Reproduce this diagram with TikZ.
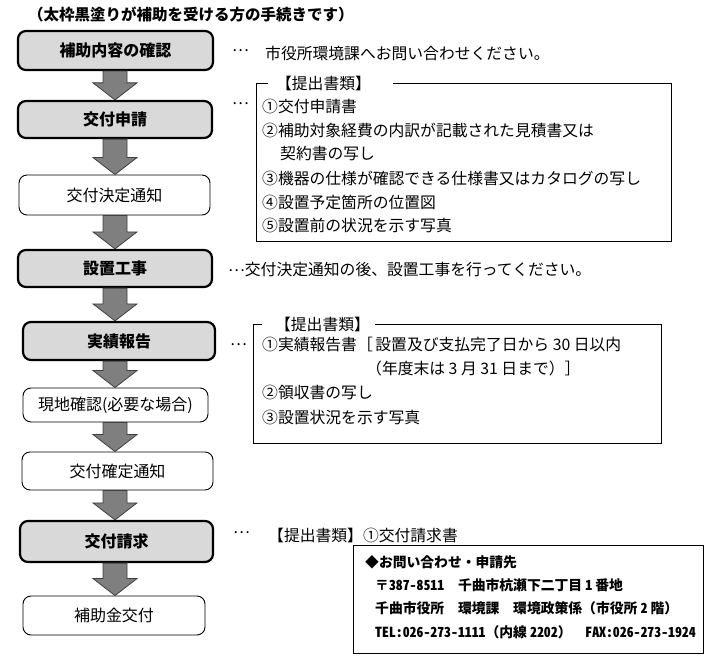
\documentclass[tikz,border=0pt]{standalone}
\usepackage{fontspec}
\setmainfont{Noto Sans CJK JP}
\usetikzlibrary{calc}
\definecolor{boxgray}{HTML}{D9D9D9}
\definecolor{arrgray}{HTML}{7F7F7F}
\definecolor{arrline}{HTML}{3F3F3F}
\newcommand{\hw}[1]{{\addfontfeature{RawFeature=+hwid}#1}}
\newcommand{\mydots}{\raisebox{0.3em}{…}}
\tikzset{
  stepbold/.style={draw, line width=2.2pt, rounded corners=8pt, fill=boxgray, inner sep=0pt,
    font=\fontsize{16}{18}\selectfont\bfseries},
  stepplain/.style={draw, line width=0.9pt, rounded corners=8pt, fill=white, inner sep=0pt,
    font=\fontsize{16}{18}\selectfont},
  txt/.style={inner sep=0pt, anchor=west, font=\fontsize{15.8}{18}\selectfont},
  ctxt/.style={inner sep=0pt, anchor=west, font=\fontsize{13.8}{16}\selectfont\bfseries},
  frame/.style={draw, line width=0.9pt},
  bigarr/.style={fill=arrgray, draw=arrline, line width=0.8pt, line join=miter}
}
\newcommand{\flowarrow}[2]{%
  \filldraw[bigarr] let \p1=(#1.south), \p2=(#2.north) in
    (103pt,\y1) -- (127pt,\y1) -- (127pt,\y2+17pt) -- (137pt,\y2+17pt) -- (115pt,\y2)
    -- (93pt,\y2+17pt) -- (103pt,\y2+17pt) -- cycle;}
\begin{document}
\begin{tikzpicture}[x=1pt,y=-1pt]
\useasboundingbox (0,0) rectangle (710,661);
% title
\node[inner sep=0pt, anchor=west, font=\fontsize{15.5}{18}\selectfont\bfseries] (title) at (28,15) {（太枠黒塗りが補助を受ける方の手続きです）};
% flow boxes
\node[stepbold, minimum width=195, minimum height=39] (b1) at (115.5,50.5) {補助内容の確認};
\node[stepbold, minimum width=194, minimum height=37] (b2) at (115,119.5) {交付申請};
\node[stepplain, minimum width=191, minimum height=40] (b3) at (114.5,195) {交付決定通知};
\node[stepbold, minimum width=194, minimum height=37] (b4) at (115,268.5) {設置工事};
\node[stepbold, minimum width=192, minimum height=38] (b5) at (119,341) {実績報告};
\node[stepplain, minimum width=185, minimum height=34] (b6) at (115.5,405) {現地確認(必要な場合)};
\node[stepplain, minimum width=191, minimum height=38] (b7) at (117.5,471) {交付確定通知};
\node[stepbold, minimum width=193, minimum height=41] (b8) at (116.5,541.5) {交付請求};
\node[stepplain, minimum width=182, minimum height=39] (b9) at (114,615.5) {補助金交付};
% arrows
\flowarrow{b1}{b2}
\flowarrow{b2}{b3}
\flowarrow{b3}{b4}
\flowarrow{b4}{b5}
\flowarrow{b5}{b6}
\flowarrow{b6}{b7}
\flowarrow{b7}{b8}
\flowarrow{b8}{b9}
% right texts
\node[txt] (d1) at (232,53) {\mydots};
\node[txt] (t1) at (265,53) {市役所環境課へお問い合わせください。};
\node[txt] (d2) at (232,106) {\mydots};
\node[txt] (t4) at (228,270) {\mydots 交付決定通知の後、設置工事を行ってください。};
\node[txt] (d5) at (230,347) {\mydots};
\node[txt] (d8) at (233,535) {\mydots};
\node[txt] (t8) at (268,535) {【提出書類】①交付請求書};
% box A
\draw[frame] (268,83) -- (256,83) -- (256,241) -- (671,241) -- (671,83) -- (393,83);
\node[inner sep=0pt, font=\fontsize{15.8}{18}\selectfont] (ha) at (323.5,83) {【提出書類】};
\node[txt] (a1) at (262,106) {①交付申請書};
\node[txt] (a2) at (262,130) {②補助対象経費の内訳が記載された見積書又は};
\node[txt] (a3) at (280,154) {契約書の写し};
\node[txt] (a4) at (262,178) {③機器の仕様が確認できる仕様書又はカタログの写し};
\node[txt] (a5) at (262,202) {④設置予定箇所の位置図};
\node[txt] (a6) at (262,225) {⑤設置前の状況を示す写真};
% box B
\draw[frame] (262,324) -- (253,324) -- (253,443) -- (661,443) -- (661,324) -- (375,324);
\node[inner sep=0pt, font=\fontsize{15.8}{18}\selectfont] (hb) at (322.5,324) {【提出書類】};
\node[txt] (r1) at (262,345) {①実績報告書［\,設置及び支払完了日から 30 日以内};
\node[txt] (r2) at (366,368) {（年度末は 3 月 31 日まで）］};
\node[txt] (r3) at (262,392) {②領収書の写し};
\node[txt] (r4) at (262,417) {③設置状況を示す写真};
% contact box
\draw[frame] (353,545) rectangle (703,653);
\node[ctxt] (c1) at (365,562) {◆お問い合わせ・申請先};
\node[ctxt] (c2) at (375,585) {〒\hw{387-8511}\quad 千曲市杭瀬下二丁目 \hw{1} 番地};
\node[ctxt] (c3) at (375,608) {千曲市役所　環境課　環境政策係（市役所 \hw{2} 階）};
\node[ctxt] (c4) at (375,632) {\hw{TEL:026-273-1111}（内線 \hw{2202}）\quad \hw{FAX:026-273-1924}};
\end{tikzpicture}
\end{document}
